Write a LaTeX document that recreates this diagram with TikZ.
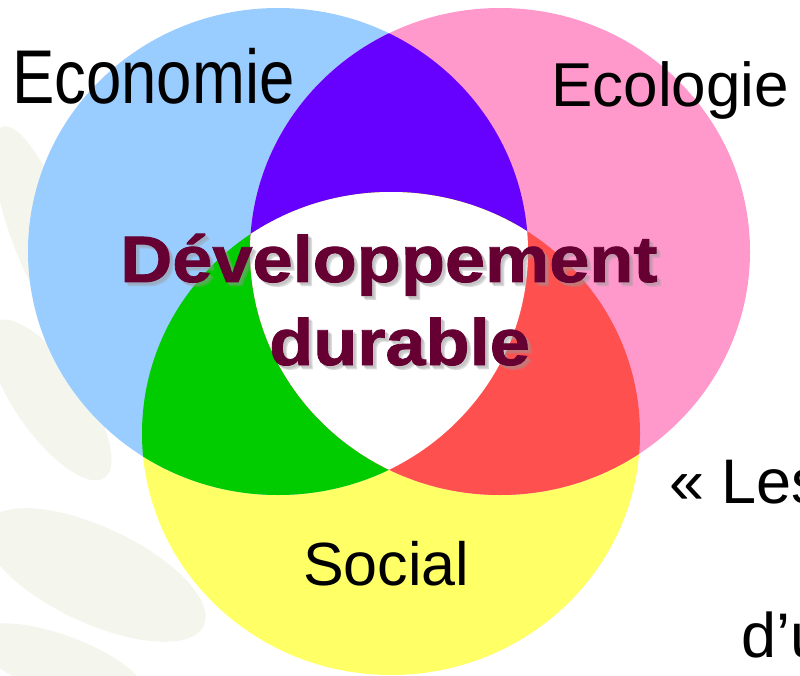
\documentclass[tikz,border=0pt]{standalone}
\usepackage{fontspec}
\setmainfont{Liberation Sans}
\newfontfamily\heavyfont[FakeBold=1.2]{Liberation Sans Bold}

\definecolor{ecoblue}{HTML}{99CCFF}
\definecolor{ecopink}{HTML}{FF99CC}
\definecolor{socyellow}{HTML}{FFFF66}
\definecolor{mixpurple}{HTML}{6600FF}
\definecolor{mixgreen}{HTML}{00CC00}
\definecolor{mixred}{HTML}{FF5050}
\definecolor{devmaroon}{HTML}{660033}
\definecolor{leafgrey}{HTML}{F4F6EE}

\newcommand{\ecocircle}{(278,251.5) ellipse [x radius=250, y radius=243.5]}
\newcommand{\ecolcircle}{(500,251.5) ellipse [x radius=250, y radius=243.5]}
\newcommand{\soccircle}{(391,433.5) ellipse [x radius=249, y radius=241.5]}

\begin{document}
\begin{tikzpicture}[
    x=1pt, y=-1pt,
    label/.style={inner sep=0pt, anchor=base west, text=black},
    devtext/.style={inner sep=0pt, anchor=base west, text=devmaroon,
        font=\heavyfont\fontsize{65.6}{70}\selectfont},
    devshadow/.style={devtext, text=black!40, opacity=0.22},
    leaf/.style={fill=leafgrey}
]
    \useasboundingbox (0,0) rectangle (800,676);
    \clip (0,0) rectangle (800,676);

    % faint leaves behind
    \fill[leaf, rotate around={-25:(95,575)}] (95,575) ellipse [x radius=120, y radius=48];
    \fill[leaf, rotate around={-55:(50,400)}] (50,400) ellipse [x radius=95, y radius=35];
    \fill[leaf, rotate around={-70:(40,230)}] (40,230) ellipse [x radius=110, y radius=30];
    \fill[leaf, rotate around={-20:(60,665)}] (60,665) ellipse [x radius=90, y radius=30];

    % the three circles
    \fill[socyellow] \soccircle;
    \fill[ecoblue] \ecocircle;
    \fill[ecopink] \ecolcircle;

    % two by two
    \begin{scope}
        \clip \ecocircle;
        \fill[mixpurple] \ecolcircle;
        \fill[mixgreen] \soccircle;
    \end{scope}
    \begin{scope}
        \clip \ecolcircle;
        \fill[mixred] \soccircle;
    \end{scope}
    % all three
    \begin{scope}
        \clip \ecocircle;
        \clip \ecolcircle;
        \fill[white] \soccircle;
    \end{scope}

    \node[label] (economie) at (12,104) {\fontsize{63.5}{70}\selectfont\scalebox{1}[1.2]{Economie}};
    \node[label] (ecologie) at (551,107) {\fontsize{62}{70}\selectfont Ecologie};
    \node[label] (social) at (303,585) {\fontsize{61}{70}\selectfont Social};

    % soft shadow
    \foreach \d in {2,3,4} {
        \node[devshadow] at (120+\d,282+\d) {\scalebox{1.1}[1]{Développement}};
        \node[devshadow] at (269+\d,365+\d) {\scalebox{1.1}[1]{durable}};
    }
    \node[devtext] (dev1) at (120,282) {\scalebox{1.1}[1]{Développement}};
    \node[devtext] (dev2) at (269,365) {\scalebox{1.1}[1]{durable}};

    \node[label] (quote1) at (669,503) {\fontsize{63}{70}\selectfont « Les};
    \node[label] (quote2) at (741,657) {\fontsize{63}{70}\selectfont d’u};
\end{tikzpicture}
\end{document}
